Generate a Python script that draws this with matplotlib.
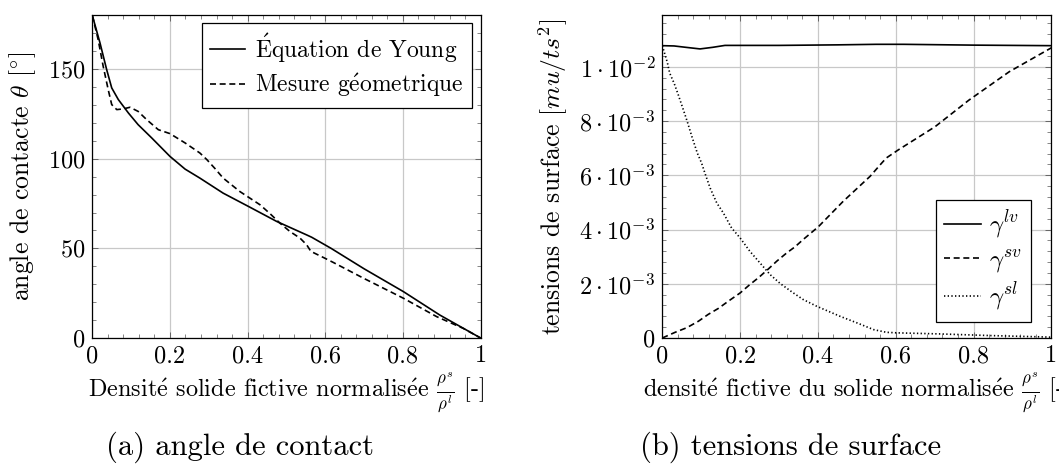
import numpy as np
import matplotlib
matplotlib.use("Agg")
import matplotlib.pyplot as plt
from matplotlib.ticker import MultipleLocator, AutoMinorLocator, FixedLocator, FixedFormatter

plt.rcParams['font.family'] = ['cmr10', 'DejaVu Serif']
plt.rcParams['mathtext.fontset'] = 'cm'
plt.rcParams['axes.formatter.use_mathtext'] = True

# (a) angle de contact
young_x = [0, 0.0198, 0.037, 0.05, 0.067, 0.093, 0.118, 0.153, 0.2, 0.239, 0.277, 0.337, 0.402,
           0.475, 0.552, 0.565, 0.615, 0.70, 0.801, 0.895, 1.0]
young_y = [180, 164.6, 149.7, 139.5, 133, 125.5, 119, 111.6, 101.3, 94.2, 89.2, 80.8, 73.4,
           65, 57.5, 56.2, 50.0, 38.6, 25.9, 12.8, 0]

mes_x = [0, 0.015, 0.028, 0.041, 0.05, 0.063, 0.08, 0.097, 0.118, 0.14, 0.17, 0.2, 0.239, 0.277,
         0.295, 0.316, 0.337, 0.38, 0.432, 0.458, 0.483, 0.509, 0.535, 0.552, 0.563, 0.598,
         0.621, 0.698, 0.801, 0.887, 0.955, 1.0]
mes_y = [180, 166.5, 151.6, 138.5, 130.2, 127.4, 127.8, 128.7, 126.4, 121.8, 116.2, 114, 108.8, 103.2,
         99.5, 94.5, 89.2, 81.7, 74.3, 69.3, 64.1, 59.4, 55.7, 52, 48.3, 44.6,
         42.1, 33.4, 22.2, 11.9, 5.4, 0]

# (b) tensions de surface
lv_x = [0, 0.03, 0.06, 0.097, 0.13, 0.161, 0.3, 0.45, 0.55, 0.62, 0.8, 1.0]
lv_y = [0.01078, 0.01077, 0.01072, 0.01066, 0.01072, 0.01079, 0.01079, 0.01081, 0.01083, 0.01083,
        0.01080, 0.01078]

sv_x = [0, 0.033, 0.063, 0.093, 0.118, 0.144, 0.17, 0.2, 0.225, 0.247, 0.273, 0.294, 0.32, 0.341,
        0.362, 0.401, 0.465, 0.534, 0.564, 0.576, 0.607, 0.701, 0.788, 0.892, 1.0]
sv_y = [0, 0.00021, 0.00038, 0.00062, 0.00087, 0.00109, 0.00136, 0.00166, 0.00197, 0.00222, 0.00255,
        0.00283, 0.00314, 0.00336, 0.00363, 0.0041, 0.00504, 0.00596, 0.00645, 0.00664, 0.00694,
        0.00779, 0.00877, 0.00982, 0.0107]

sl_x = [0, 0.013, 0.019, 0.031, 0.041, 0.054, 0.064, 0.076, 0.09, 0.101, 0.11, 0.123, 0.14, 0.157,
        0.178, 0.2, 0.225, 0.251, 0.277, 0.303, 0.335, 0.362, 0.397, 0.457, 0.5, 0.543, 0.576,
        0.603, 0.714, 0.842, 0.979, 1.0]
sl_y = [0.01078, 0.01016, 0.00977, 0.00937, 0.00897, 0.00842, 0.00799, 0.00743, 0.00682, 0.00645,
        0.00606, 0.00553, 0.00498, 0.00461, 0.00406, 0.00369, 0.0032, 0.00277, 0.00234, 0.00201,
        0.00168, 0.00142, 0.00117, 0.0008, 0.00056, 0.00031, 0.00021, 0.00019, 0.00015, 0.00009,
        0.00004, 0.00003]

x_ticks = [0, 0.2, 0.4, 0.6, 0.8, 1]
x_labels = ["0", "0.2", "0.4", "0.6", "0.8", "1"]
yb_ticks = [0, 0.002, 0.004, 0.006, 0.008, 0.01]
yb_labels = ["0", r"$2\cdot10^{-3}$", r"$4\cdot10^{-3}$", r"$6\cdot10^{-3}$", r"$8\cdot10^{-3}$", r"$1\cdot10^{-2}$"]

fs = 17.5
lfs = 17
W, H = 1059, 472
fig = plt.figure(figsize=(W / 100, H / 100), dpi=100)
ax1 = fig.add_axes([92.3 / W, (H - 338) / H, (480.6 - 92.3) / W, (338 - 15.3) / H])
ax2 = fig.add_axes([662.3 / W, (H - 338) / H, (1051.3 - 662.3) / W, (338 - 15.3) / H])


def style(ax):
    ax.grid(True, which="major", color="#c8c8c8", lw=0.9)
    ax.set_axisbelow(True)
    ax.tick_params(which="both", direction="in", top=True, right=True, labelsize=fs, pad=5)
    ax.tick_params(which="major", length=4.5, width=0.6, color="#555555")
    ax.tick_params(which="minor", length=2.8, width=0.5, color="#555555")
    ax.xaxis.set_minor_locator(AutoMinorLocator(5))
    ax.yaxis.set_minor_locator(AutoMinorLocator(5))
    for s in ax.spines.values():
        s.set_linewidth(0.9)
    ax.set_xlim(0, 1)
    ax.xaxis.set_major_locator(FixedLocator(x_ticks))
    ax.xaxis.set_major_formatter(FixedFormatter(x_labels))


dash = (0, (3.6, 2.2))
dots = (0, (0.8, 1.4))

ax1.plot(young_x, young_y, color="black", lw=1.2, label=r"$\mathrm{\acute{E}}$quation de Young")
ax1.plot(mes_x, mes_y, color="black", lw=1.2, ls=dash, label=r"Mesure g$\mathrm{\acute{e}}$ometrique")
style(ax1)
ax1.set_ylim(0, 180)
ax1.yaxis.set_major_locator(MultipleLocator(50))
ax1.set_xlabel(r"Densit$\mathrm{\acute{e}}$ solide fictive normalis$\mathrm{\acute{e}}$e $\frac{\rho^s}{\rho^l}$ [-]",
               fontsize=fs, labelpad=2)
ax1.set_ylabel(r"angle de contacte $\theta$ [$^{\circ}$]", fontsize=fs + 1, labelpad=7)
leg1 = ax1.legend(loc="upper right", bbox_to_anchor=(0.978, 0.977), fontsize=lfs, fancybox=False,
                  edgecolor="black", framealpha=1, handlelength=1.45, handletextpad=0.45,
                  borderpad=0.35, labelspacing=0.3, borderaxespad=0)
leg1.get_frame().set_linewidth(0.9)

ax2.plot(lv_x, lv_y, color="black", lw=1.2, label=r"$\gamma^{lv}$")
ax2.plot(sv_x, sv_y, color="black", lw=1.2, ls=dash, label=r"$\gamma^{sv}$")
ax2.plot(sl_x, sl_y, color="black", lw=1.2, ls=dots, label=r"$\gamma^{sl}$")
style(ax2)
ax2.set_ylim(0, 0.0119)
ax2.yaxis.set_major_locator(FixedLocator(yb_ticks))
ax2.yaxis.set_major_formatter(FixedFormatter(yb_labels))
ax2.set_xlabel(r"densit$\mathrm{\acute{e}}$ fictive du solide normalis$\mathrm{\acute{e}}$e $\frac{\rho^s}{\rho^l}$ [-]",
               fontsize=fs, labelpad=2)
ax2.set_ylabel(r"tensions de surface $[mu/ts^2]$", fontsize=fs + 1, labelpad=7)
leg2 = ax2.legend(loc="lower right", bbox_to_anchor=(0.948, 0.049), fontsize=lfs + 1, fancybox=False,
                  edgecolor="black", framealpha=1, handlelength=1.45, handletextpad=0.35,
                  borderpad=0.35, labelspacing=0.25, borderaxespad=0)
leg2.get_frame().set_linewidth(0.9)

fig.text(240 / W, 1 - 447 / H, "(a) angle de contact", fontsize=22, ha="center", va="center")
fig.text(790.7 / W, 1 - 447 / H, "(b) tensions de surface", fontsize=22, ha="center", va="center")

fig.savefig("out.png", dpi=100)
